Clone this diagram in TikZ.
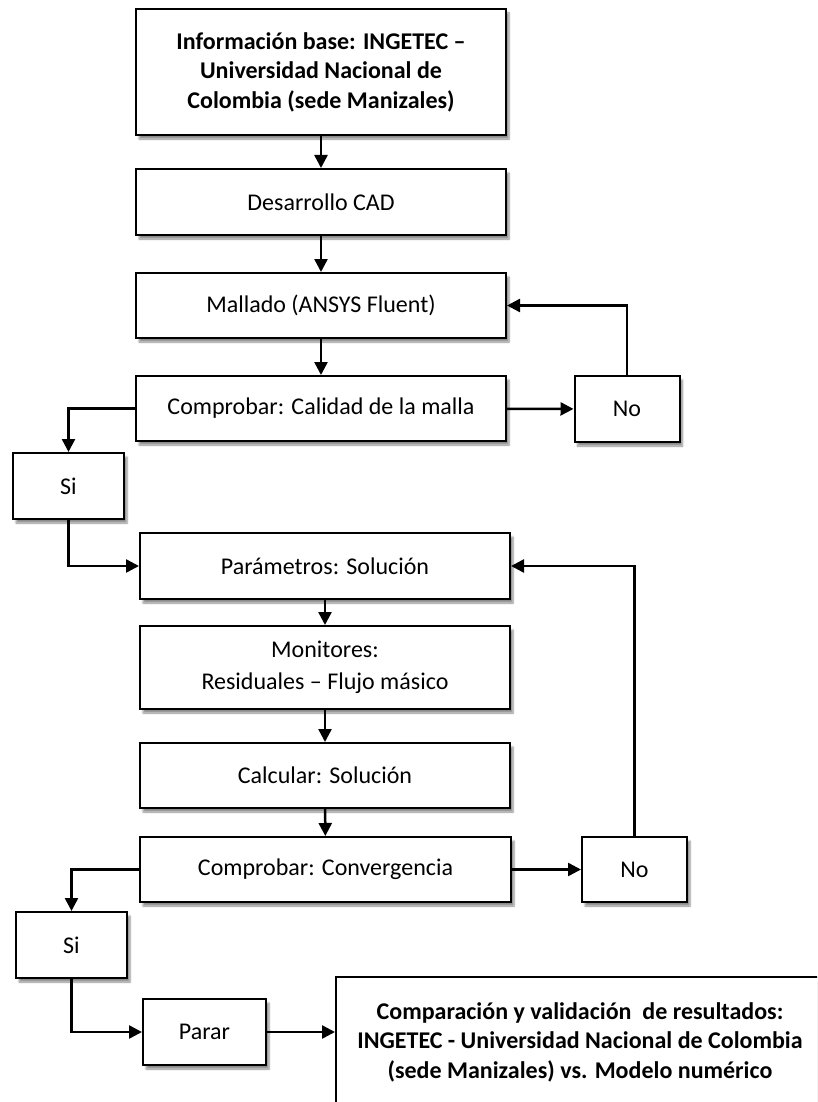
\documentclass[tikz,border=0pt]{standalone}
\usepackage{fontspec}
\setmainfont{Carlito}
\usetikzlibrary{arrows.meta,shadows.blur}

\tikzset{
    caja/.style={draw, line width=2pt, fill=white, align=center, inner sep=0pt,
                 font=\fontsize{24}{30}\selectfont,
                 blur shadow={shadow xshift=3pt, shadow yshift=-4pt, shadow blur steps=6, shadow opacity=45}},
    cajab/.style={caja, font=\fontsize{24}{29.5}\selectfont\bfseries},
    flecha/.style={-{Triangle[length=13pt,width=13pt]}, line width=2.5pt}
}

\begin{document}
\begin{tikzpicture}[x=1pt,y=-1pt]
                \useasboundingbox (0,0) rectangle (817,1102);
                \clip (0,0) rectangle (817,1102);

                % cajas principales
                \node [cajab, minimum width=370pt, minimum height=126pt] (base) at (321,72)
                    {Información base: INGETEC –\\Universidad Nacional de\\Colombia (sede Manizales)};
                \node [caja, minimum width=370pt, minimum height=66pt] (cad) at (321,202) {Desarrollo CAD};
                \node [caja, minimum width=370pt, minimum height=65pt] (malla) at (321,305.5) {Mallado (ANSYS Fluent)};
                \node [caja, minimum width=370pt, minimum height=65pt] (calidad) at (321,408.5) {Comprobar: Calidad de la malla};
                \node [caja, minimum width=105pt, minimum height=66pt] (no1) at (627,409) {No};
                \node [caja, minimum width=111pt, minimum height=66pt] (si1) at (68.5,486) {Si};

                \node [caja, minimum width=370pt, minimum height=66pt] (param) at (325,566) {Parámetros: Solución};
                \node [caja, minimum width=370pt, minimum height=83pt, font=\fontsize{24}{32}\selectfont] (monit) at (325,667.5)
                    {Monitores:\\Residuales – Flujo másico};
                \node [caja, minimum width=370pt, minimum height=65pt] (calc) at (325,775.5) {Calcular: Solución};
                \node [caja, minimum width=371pt, minimum height=65pt] (conv) at (325.5,869.5) {Comprobar: Convergencia};
                \node [caja, minimum width=105pt, minimum height=65pt] (no2) at (634.5,869.5) {No};
                \node [caja, minimum width=111pt, minimum height=66pt] (si2) at (71.5,945) {Si};
                \node [caja, minimum width=123pt, minimum height=66pt] (parar) at (204.5,1032) {Parar};
                \node [cajab, minimum width=488pt, minimum height=130pt] (result) at (580,1042)
                    {Comparación y validación\ \ de resultados:\\INGETEC - Universidad Nacional de Colombia\\(sede Manizales) vs. Modelo numérico};

                % conexiones
                \draw[flecha] (base) -- (cad);
                \draw[flecha] (cad) -- (malla);
                \draw[flecha] (malla) -- (calidad);
                \draw[flecha] (calidad) -- (no1);
                \draw[flecha] (no1.north) |- (malla.east);
                \draw[flecha] (calidad.west) -| (si1.north);
                \draw[flecha] (si1.south) |- (param.west);

                \draw[flecha] (param) -- (monit);
                \draw[flecha] (monit) -- (calc);
                \draw[flecha] (calc) -- (conv);
                \draw[flecha] (conv) -- (no2);
                \draw[flecha] (no2.north) |- (param.east);
                \draw[flecha] (conv.west) -| (si2.north);
                \draw[flecha] (si2.south) |- (parar.west);
                \draw[flecha] (parar.east) -- (parar.east -| result.west);
\end{tikzpicture}
\end{document}
